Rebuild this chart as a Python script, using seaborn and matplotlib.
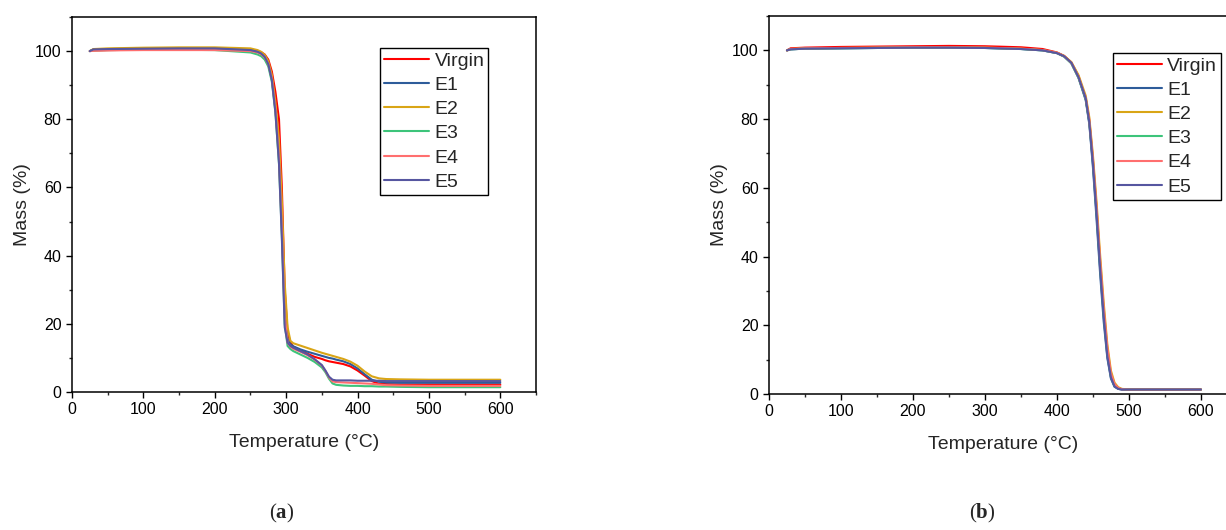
import matplotlib
matplotlib.use("Agg")
import matplotlib.pyplot as plt
from matplotlib.ticker import MultipleLocator
import seaborn as sns
import pandas as pd

series = ["Virgin", "E1", "E2", "E3", "E4", "E5"]
colors = ["#FF0000", "#2E5C9A", "#D9A516", "#3DC47A", "#FF6F6F", "#5656A0"]

# panel (a)
temp_a = [25, 30, 50, 100, 150, 200, 250, 260, 265, 270, 275, 280, 285, 290, 294, 298,
          302, 306, 310, 320, 330, 340, 350, 355, 360, 365, 370, 380, 390, 400, 410, 420,
          430, 440, 460, 500, 600]
virgin_a = [100.0, 100.2, 100.3, 100.4, 100.5, 100.5, 100.3, 100.0, 99.7, 99.0, 97.5, 94.0,
            88.0, 80.0, 60.0, 30.0, 17.5, 14.5, 13.3, 12.2, 11.2, 10.3, 9.7, 9.3, 9.0, 8.8,
            8.6, 8.2, 7.5, 6.3, 4.8, 3.2, 2.4, 2.3, 2.2, 2.2, 2.2]
e1_a = [100.0, 100.5, 100.6, 100.8, 100.9, 100.9, 100.5, 100.0, 99.5, 98.5, 96.5, 92.0,
        83.0, 70.0, 50.0, 24.0, 15.5, 14.0, 13.4, 12.5, 11.8, 11.2, 10.6, 10.3, 10.0, 9.8,
        9.5, 9.0, 8.2, 6.9, 5.2, 3.6, 3.0, 2.8, 2.7, 2.7, 2.7]
e2_a = [100.0, 100.6, 100.8, 101.0, 101.1, 101.1, 100.8, 100.3, 99.8, 98.9, 97.0, 93.0,
        85.0, 74.0, 56.0, 32.0, 19.0, 15.0, 14.3, 13.6, 12.9, 12.2, 11.5, 11.2, 10.9, 10.6,
        10.3, 9.7, 8.9, 7.7, 6.0, 4.6, 4.0, 3.8, 3.7, 3.6, 3.6]
e3_a = [100.0, 100.2, 100.3, 100.4, 100.4, 100.3, 99.6, 99.0, 98.5, 97.5, 95.5, 91.0,
        82.0, 67.0, 46.0, 20.0, 13.5, 12.6, 12.0, 11.0, 10.0, 8.8, 7.2, 5.8, 3.9, 2.5,
        2.1, 1.9, 1.8, 1.8, 1.7, 1.7, 1.6, 1.6, 1.5, 1.4, 1.4]
e4_a = [100.0, 100.1, 100.2, 100.3, 100.3, 100.3, 100.0, 99.6, 99.1, 98.2, 96.2, 92.0,
        83.0, 69.0, 48.0, 22.0, 14.5, 13.3, 12.7, 11.8, 10.8, 9.5, 7.8, 6.2, 4.3, 3.1,
        2.9, 2.8, 2.7, 2.6, 2.5, 2.4, 2.2, 2.0, 1.9, 1.8, 1.8]
e5_a = [100.0, 100.5, 100.6, 100.7, 100.8, 100.8, 100.3, 99.8, 99.3, 98.3, 96.2, 91.5,
        82.0, 67.0, 45.0, 19.0, 14.5, 13.5, 13.0, 12.0, 11.0, 9.6, 7.9, 6.3, 4.5, 3.6,
        3.4, 3.4, 3.4, 3.3, 3.3, 3.3, 3.3, 3.2, 3.2, 3.2, 3.2]

# panel (b)
temp_b = [25, 30, 50, 100, 150, 200, 250, 300, 350, 380, 400, 410, 420, 430, 440, 445,
          450, 455, 460, 465, 470, 475, 480, 485, 490, 500, 550, 600]
virgin_b = [100.0, 100.6, 100.8, 101.0, 101.1, 101.2, 101.3, 101.2, 100.9, 100.4, 99.4, 98.4,
            96.5, 92.5, 86.0, 79.5, 68.0, 54.0, 38.0, 24.0, 12.5, 5.5, 2.6, 1.7, 1.4, 1.3,
            1.3, 1.3]
e1_b = [100.0, 100.3, 100.5, 100.6, 100.7, 100.8, 100.8, 100.7, 100.4, 100.0, 99.2, 98.2,
        96.3, 92.0, 85.5, 78.5, 66.0, 51.0, 35.0, 21.0, 10.5, 4.5, 2.1, 1.5, 1.3, 1.3,
        1.3, 1.3]
e2_b = [100.0, 100.4, 100.6, 100.7, 100.8, 100.9, 100.9, 100.8, 100.5, 100.1, 99.3, 98.4,
        96.6, 92.8, 86.8, 80.5, 69.5, 56.0, 40.5, 26.5, 14.5, 6.8, 3.3, 2.0, 1.5, 1.3,
        1.3, 1.3]
e3_b = [100.0, 100.3, 100.5, 100.6, 100.7, 100.8, 100.8, 100.7, 100.4, 100.0, 99.2, 98.2,
        96.2, 92.0, 85.8, 79.0, 67.5, 53.0, 37.0, 23.0, 11.5, 5.0, 2.3, 1.6, 1.4, 1.3,
        1.3, 1.3]
e4_b = [100.0, 100.4, 100.6, 100.7, 100.8, 100.9, 100.9, 100.8, 100.5, 100.1, 99.3, 98.3,
        96.4, 92.3, 86.2, 79.8, 68.5, 54.5, 39.0, 25.0, 13.5, 6.0, 2.9, 1.8, 1.4, 1.3,
        1.3, 1.3]
e5_b = [100.0, 100.3, 100.5, 100.6, 100.7, 100.8, 100.8, 100.7, 100.4, 100.0, 99.2, 98.3,
        96.4, 92.2, 86.0, 79.0, 67.0, 52.5, 36.5, 22.5, 11.0, 4.8, 2.2, 1.5, 1.3, 1.3,
        1.3, 1.3]


def to_long(temp, values):
    frames = []
    for name, vals in zip(series, values):
        frames.append(pd.DataFrame({"Temperature": temp, "Mass": vals, "Sample": name}))
    return pd.concat(frames, ignore_index=True)


df_a = to_long(temp_a, [virgin_a, e1_a, e2_a, e3_a, e4_a, e5_a])
df_b = to_long(temp_b, [virgin_b, e1_b, e2_b, e3_b, e4_b, e5_b])

sns.set_style("ticks")
plt.rcParams["font.family"] = ["Liberation Sans", "DejaVu Sans"]
plt.rcParams["mathtext.fontset"] = "custom"
plt.rcParams["mathtext.bf"] = "Liberation Serif:bold"

fig = plt.figure(figsize=(12.26, 5.3), dpi=100)
ax1 = fig.add_axes([0.0587, 0.2604, 0.3785, 0.7075])
ax2 = fig.add_axes([0.6272, 0.2566, 0.3817, 0.7132])

palette = dict(zip(series, colors))

for ax, df, leg_xy in [(ax1, df_a, (0.664, 0.917)), (ax2, df_b, (0.735, 0.902))]:
    sns.lineplot(data=df, x="Temperature", y="Mass", hue="Sample", palette=palette,
                 hue_order=series, sort=False, estimator=None, linewidth=1.5, ax=ax)
    ax.set_xlim(0, 650)
    ax.set_ylim(0, 110)
    ax.set_xticks(range(0, 601, 100))
    ax.set_yticks(range(0, 101, 20))
    ax.xaxis.set_minor_locator(MultipleLocator(50))
    ax.yaxis.set_minor_locator(MultipleLocator(10))
    ax.tick_params(which="major", direction="out", length=4, width=1, labelsize=11.5,
                   colors="black")
    ax.tick_params(which="minor", direction="out", length=2.5, width=1)
    for sp in ax.spines.values():
        sp.set_color("black")
        sp.set_linewidth(1.1)
    ax.set_xlabel("Temperature (°C)", fontsize=14, labelpad=12)
    ax.set_ylabel("Mass (%)", fontsize=14, labelpad=3)
    handles, labels = ax.get_legend_handles_labels()
    ax.legend(handles, labels, loc="upper left", bbox_to_anchor=leg_xy,
              fontsize=14, frameon=True, fancybox=False, framealpha=1,
              edgecolor="black", borderpad=0.2, borderaxespad=0, handlelength=2.3,
              handletextpad=0.3, labelspacing=0.34)
    ax.get_legend().get_frame().set_linewidth(1.0)

fig.text(0.230, 0.022, r"($\mathbf{a}$)", fontsize=15, family="Liberation Serif",
         ha="center")
fig.text(0.801, 0.022, r"($\mathbf{b}$)", fontsize=15, family="Liberation Serif",
         ha="center")

fig.savefig("out.png", dpi=100)
